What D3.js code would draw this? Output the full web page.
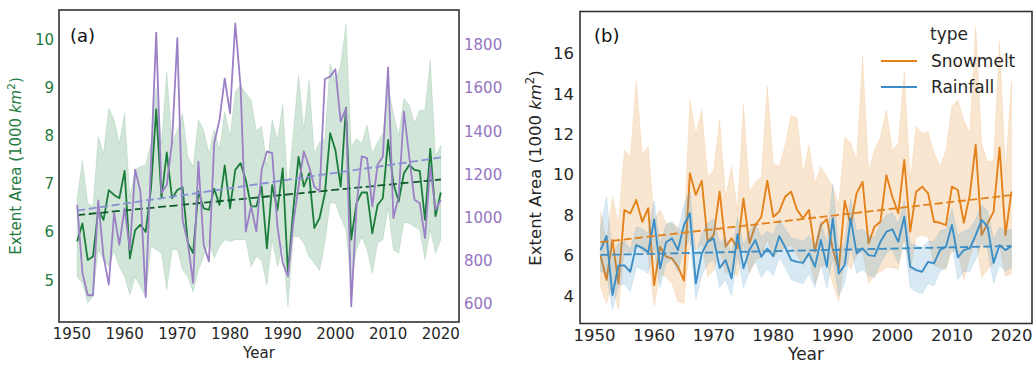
<!DOCTYPE html>
<html>
<head>
<meta charset="utf-8">
<script src="https://cdn.jsdelivr.net/npm/d3@7"></script>
<style>
  body { margin: 0; background: #fff; }
  svg { display: block; font-family: "DejaVu Sans", sans-serif; }
</style>
</head>
<body>
<svg id="chart" width="1035" height="365"></svg>
<script>
const years = d3.range(1951, 2021);
const xTicks = [1950, 1960, 1970, 1980, 1990, 2000, 2010, 2020];
const areaTicks = [5, 6, 7, 8, 9, 10];
const countTicks = [600, 800, 1000, 1200, 1400, 1600, 1800];
const typeTicks = [4, 6, 8, 10, 12, 14, 16];
const trendYears = [1951, 2020];

// panel (a): extent area (mean + band) and the count series on the twin axis
const areaMean = [5.80, 6.18, 5.42, 5.49, 6.46, 6.25, 6.87, 6.77, 6.70, 7.27,
  5.45, 6.04, 6.15, 6.00, 6.90, 8.55, 6.70, 7.65, 6.70, 6.87,
  6.93, 5.77, 5.56, 6.84, 6.49, 6.46, 6.90, 6.56, 7.38, 6.49,
  7.29, 7.43, 7.08, 6.53, 6.53, 6.94, 5.66, 6.97, 6.46, 7.32,
  5.14, 6.46, 7.56, 6.94, 7.22, 6.08, 6.29, 6.80, 8.05, 7.70,
  6.94, 8.58, 5.84, 6.60, 6.82, 6.82, 5.97, 6.56, 6.70, 7.91,
  7.01, 6.63, 7.22, 7.39, 7.29, 7.27, 6.25, 7.73, 6.33, 6.82];
const areaHi = [6.70, 7.48, 6.60, 6.53, 7.98, 7.63, 8.57, 8.33, 7.84, 8.46,
  6.73, 7.29, 7.36, 7.39, 7.84, 9.00, 7.84, 9.33, 7.84, 8.12,
  8.46, 7.56, 7.36, 8.33, 8.12, 7.63, 8.12, 7.70, 8.50, 7.98,
  8.90, 9.05, 8.88, 8.74, 8.10, 8.20, 7.36, 8.33, 7.91, 8.64,
  6.87, 8.05, 9.26, 8.12, 9.15, 7.63, 7.87, 7.94, 9.50, 9.12,
  9.47, 10.32, 7.77, 7.94, 7.84, 8.22, 7.63, 7.87, 8.05, 9.02,
  8.46, 8.01, 8.77, 8.64, 8.26, 8.53, 8.53, 9.57, 7.56, 7.80];
const areaLo = [5.07, 4.94, 4.52, 4.66, 5.63, 5.42, 5.28, 5.60, 5.28, 5.07,
  4.69, 5.07, 4.86, 4.66, 5.70, 5.63, 5.56, 4.80, 5.63, 5.63,
  5.21, 5.07, 4.75, 5.21, 5.49, 5.77, 5.45, 5.70, 5.84, 5.80,
  5.84, 5.84, 5.84, 5.28, 5.49, 5.40, 4.90, 5.84, 5.28, 5.70,
  4.45, 5.90, 5.90, 5.77, 5.49, 5.35, 5.20, 5.77, 6.60, 6.60,
  6.30, 6.04, 4.87, 5.63, 5.90, 5.63, 5.14, 5.77, 5.84, 6.50,
  5.63, 5.56, 6.20, 6.18, 6.11, 6.04, 5.42, 6.04, 5.56, 5.84];
const countSeries = [1059, 742, 639, 639, 1079, 819, 688, 1020, 873, 1043,
  850, 1221, 1120, 631, 1250, 1857, 1113, 1150, 1350, 1831,
  989, 881, 696, 1259, 873, 796, 1344, 1452, 1645, 1483,
  1900, 1607, 935, 1051, 935, 1221, 1306, 1298, 958, 788,
  727, 974, 1143, 1306, 1236, 1143, 1120, 1642, 1653, 1687,
  1445, 1506, 588, 1051, 1283, 1275, 1051, 1244, 1283, 1696,
  997, 1097, 1491, 1283, 1082, 1066, 904, 1236, 1035, 1082];
const areaTrend = [6.35, 7.09];
const countTrend = [1032, 1278];

// panel (b): extent area by type
const types = ["Snowmelt", "Rainfall"];
const snowMean = [6.01, 4.78, 6.76, 4.61, 8.24, 8.08, 8.74, 7.66, 8.33, 4.53,
  6.43, 5.93, 5.85, 5.44, 4.75, 10.06, 8.99, 9.69, 6.67, 7.00,
  9.15, 6.43, 6.84, 6.34, 8.82, 6.59, 7.50, 7.90, 9.69, 7.90,
  8.16, 8.90, 9.15, 8.24, 7.83, 8.24, 6.20, 7.50, 7.80, 6.30,
  5.30, 8.70, 7.50, 9.07, 9.64, 6.59, 7.42, 7.66, 9.97, 8.90,
  8.08, 10.72, 7.17, 9.15, 9.40, 9.07, 7.66, 7.61, 7.50, 9.40,
  9.23, 7.61, 8.98, 11.46, 7.00, 7.58, 8.16, 11.34, 7.00, 9.15];
const snowHi = [8.16, 6.76, 8.90, 7.58, 11.21, 10.88, 14.68, 11.01, 11.38, 7.80,
  8.24, 7.58, 7.58, 7.40, 7.00, 13.69, 11.96, 13.23, 9.89, 10.22,
  12.70, 8.90, 10.39, 8.24, 13.47, 9.15, 9.64, 9.89, 14.38, 10.55,
  10.39, 11.46, 12.94, 12.78, 10.06, 11.46, 9.56, 10.39, 9.89, 9.40,
  8.50, 11.87, 11.54, 10.70, 15.91, 10.20, 11.20, 11.87, 13.19, 11.20,
  11.54, 15.09, 9.73, 12.37, 12.04, 12.12, 11.05, 10.39, 11.20, 13.36,
  13.69, 12.70, 12.04, 17.32, 11.54, 10.63, 10.70, 16.57, 10.20, 14.60];
const snowLo = [4.40, 3.62, 4.60, 3.29, 6.26, 6.01, 6.59, 6.20, 6.00, 3.46,
  5.10, 4.94, 4.61, 3.70, 3.62, 6.59, 6.26, 6.59, 4.94, 5.27,
  6.26, 5.10, 5.27, 4.94, 6.59, 5.10, 5.77, 5.90, 6.80, 5.90,
  6.20, 6.40, 6.50, 6.00, 5.50, 6.00, 4.60, 5.40, 5.60, 4.60,
  3.70, 5.80, 5.30, 6.00, 6.20, 4.60, 5.00, 5.20, 5.40, 5.40,
  5.30, 6.80, 5.20, 6.90, 7.00, 6.90, 5.50, 5.40, 5.30, 6.20,
  6.20, 4.80, 5.90, 6.80, 4.90, 5.30, 5.60, 6.50, 4.95, 5.10];
const rainMean = [6.26, 6.95, 4.03, 5.50, 5.50, 5.19, 6.51, 6.37, 6.15, 7.78,
  5.36, 6.65, 6.84, 6.26, 7.50, 8.08, 4.61, 6.10, 6.67, 6.84,
  5.38, 5.77, 4.86, 7.05, 5.36, 6.26, 6.76, 5.93, 6.34, 5.96,
  6.95, 6.40, 5.77, 5.68, 5.63, 6.10, 5.44, 6.76, 5.44, 7.83,
  5.10, 5.52, 7.83, 6.10, 6.35, 6.01, 5.96, 6.67, 7.17, 7.29,
  6.67, 7.91, 5.44, 5.27, 5.19, 5.68, 5.60, 6.26, 6.43, 7.50,
  5.90, 6.26, 6.35, 7.00, 7.75, 7.41, 5.63, 6.50, 6.26, 6.46];
const rainHi = [7.42, 8.90, 6.00, 6.60, 6.70, 6.30, 7.40, 7.30, 7.10, 8.70,
  6.60, 7.50, 7.70, 7.20, 8.50, 9.20, 6.00, 7.10, 7.60, 7.80,
  6.60, 6.90, 6.10, 7.90, 6.50, 7.20, 7.60, 6.90, 7.20, 7.00,
  7.80, 7.30, 6.90, 6.80, 6.70, 7.00, 6.50, 7.70, 6.60, 9.56,
  6.30, 6.60, 8.80, 7.20, 7.30, 7.00, 6.90, 7.60, 8.00, 8.10,
  7.60, 8.70, 6.60, 6.50, 6.40, 6.70, 6.70, 7.20, 7.30, 8.30,
  7.00, 7.20, 7.30, 7.80, 8.50, 8.20, 6.80, 7.40, 7.20, 7.30];
const rainLo = [5.20, 5.10, 3.30, 4.50, 4.60, 4.20, 5.40, 5.30, 5.10, 6.40,
  4.40, 5.60, 5.80, 5.20, 6.30, 6.80, 3.80, 5.00, 5.60, 5.80,
  4.40, 4.80, 4.00, 6.00, 4.40, 5.20, 5.70, 4.90, 5.30, 5.00,
  5.90, 5.40, 4.80, 4.70, 4.60, 5.10, 4.40, 5.60, 4.40, 5.90,
  4.00, 4.60, 6.50, 5.10, 5.30, 5.00, 4.90, 5.60, 6.10, 6.30,
  5.60, 6.90, 4.40, 4.20, 4.10, 4.60, 4.50, 5.20, 5.40, 6.50,
  4.80, 5.20, 5.20, 5.80, 6.60, 6.30, 4.60, 5.50, 5.20, 5.40];
const snowTrend = [6.65, 8.98];
const rainTrend = [6.02, 6.46];

const GREEN = "#1b7d3c", GREEN_DARK = "#0f5a2a";
const PURPLE = "#9b80c6", PURPLE_DASH = "#8c8fd4", PURPLE_TXT = "#9474c0";
const SNOW = "#e3821b", RAIN = "#3b8fc6";
const INK = "#262626";

const svg = d3.select("#chart");

function band(g, x, y, lo, hi, color) {
  const rows = years.map((yr, i) => ({ yr, lo: lo[i], hi: hi[i] }));
  g.append("path")
    .datum(rows)
    .attr("d", d3.area().x((d) => x(d.yr)).y0((d) => y(d.lo)).y1((d) => y(d.hi)))
    .attr("fill", color)
    .attr("fill-opacity", 0.2)
    .attr("stroke", color)
    .attr("stroke-opacity", 0.12)
    .attr("stroke-width", 1);
}

function series(g, x, y, values, color, width) {
  g.append("path")
    .datum(values)
    .attr("d", d3.line().x((d, i) => x(years[i])).y((d) => y(d)))
    .attr("fill", "none")
    .attr("stroke", color)
    .attr("stroke-width", width)
    .attr("stroke-linejoin", "round");
}

function trend(g, x, y, ends, color) {
  g.append("path")
    .datum(ends)
    .attr("d", d3.line().x((d, i) => x(trendYears[i])).y((d) => y(d)))
    .attr("fill", "none")
    .attr("stroke", color)
    .attr("stroke-width", 1.8)
    .attr("stroke-dasharray", "8,3.6");
}

function yLabel(cx, cy, size, color) {
  const t = svg.append("text")
    .attr("transform", `translate(${cx},${cy}) rotate(-90)`)
    .attr("text-anchor", "middle")
    .attr("fill", color)
    .style("font-size", size + "px");
  t.append("tspan").text("Extent Area (1000 ");
  t.append("tspan").attr("font-style", "italic").text("km");
  t.append("tspan").attr("dy", -size * 0.4).style("font-size", size * 0.7 + "px").text("2");
  t.append("tspan").attr("dy", size * 0.4).text(")");
}

function xAxis(x, bottom, size, labelSize, labelGap) {
  svg.append("g").selectAll("text")
    .data(xTicks)
    .join("text")
    .attr("x", (d) => x(d))
    .attr("y", bottom + size * 0.36 + 11.5)
    .attr("text-anchor", "middle")
    .attr("fill", INK)
    .style("font-size", size + "px")
    .text((d) => d);
  const [a, b] = x.range();
  svg.append("text")
    .attr("x", (a + b) / 2)
    .attr("y", bottom + labelGap)
    .attr("text-anchor", "middle")
    .attr("fill", INK)
    .style("font-size", labelSize + "px")
    .text("Year");
}

function yTicks(y, ticks, xPos, anchor, size, color) {
  svg.append("g").selectAll("text")
    .data(ticks)
    .join("text")
    .attr("x", xPos)
    .attr("y", (d) => y(d))
    .attr("dy", "0.36em")
    .attr("text-anchor", anchor)
    .attr("fill", color)
    .style("font-size", size + "px")
    .text((d) => d);
}

function frame(L, T, R, B) {
  svg.append("rect")
    .attr("x", L).attr("y", T)
    .attr("width", R - L).attr("height", B - T)
    .attr("fill", "none")
    .attr("stroke", "#333")
    .attr("stroke-width", 1.6);
}

// ---- panel (a)
const A = { L: 59, R: 459, T: 10, B: 322 };
const xa = d3.scaleLinear().domain([1947.55, 2023.45]).range([A.L, A.R]);
const ya = d3.scaleLinear().domain([4.13, 10.61]).range([A.B, A.T]);
const yc = d3.scaleLinear().domain([515, 1962]).range([A.B, A.T]);

const $a = svg.append("g");
band($a, xa, ya, areaLo, areaHi, GREEN);
series($a, xa, ya, areaMean, GREEN, 1.8);
trend($a, xa, ya, areaTrend, GREEN_DARK);
series($a, xa, yc, countSeries, PURPLE, 1.8);
trend($a, xa, yc, countTrend, PURPLE_DASH);
frame(A.L, A.T, A.R, A.B);

yTicks(ya, areaTicks, A.L - 5, "end", 15, "#237a3e");
yTicks(yc, countTicks, A.R + 5, "start", 15, PURPLE_TXT);
xAxis(xa, A.B, 15, 15, 36);
yLabel(21, 166, 15, "#237a3e");
svg.append("text").attr("x", 70).attr("y", 41.5)
  .attr("fill", "#111").style("font-size", "18px").text("(a)");

// ---- panel (b)
const Bp = { L: 580, R: 1032, T: 11.5, B: 323.5 };
const xb = d3.scaleLinear().domain([1947.55, 2023.45]).range([Bp.L, Bp.R]);
const yb = d3.scaleLinear().domain([2.63, 18.06]).range([Bp.B, Bp.T]);

const $b = svg.append("g");
band($b, xb, yb, snowLo, snowHi, SNOW);
series($b, xb, yb, snowMean, SNOW, 1.9);
band($b, xb, yb, rainLo, rainHi, RAIN);
series($b, xb, yb, rainMean, RAIN, 1.9);
trend($b, xb, yb, snowTrend, SNOW);
trend($b, xb, yb, rainTrend, RAIN);
frame(Bp.L, Bp.T, Bp.R, Bp.B);

yTicks(yb, typeTicks, Bp.L - 6, "end", 16.5, INK);
xAxis(xb, Bp.B, 16.5, 17, 36.5);
yLabel(541, 168, 16.5, INK);
svg.append("text").attr("x", 594).attr("y", 42)
  .attr("fill", "#111").style("font-size", "18px").text("(b)");

// legend
const $leg = svg.append("g").attr("transform", "translate(881,0)");
$leg.append("text").attr("x", 49).attr("y", 40)
  .attr("fill", INK).style("font-size", "17px").text("type");
$leg.selectAll("g.item")
  .data(types)
  .join("g")
  .attr("class", "item")
  .attr("transform", (d, i) => `translate(0,${61 + i * 26})`)
  .each(function (d, i) {
    const g = d3.select(this);
    g.append("line").attr("x1", 0).attr("x2", 36)
      .attr("stroke", i === 0 ? SNOW : RAIN).attr("stroke-width", 2);
    g.append("text").attr("x", 50).attr("y", 5.5)
      .attr("fill", INK).style("font-size", "17px").text(d);
  });
</script>
</body>
</html>
